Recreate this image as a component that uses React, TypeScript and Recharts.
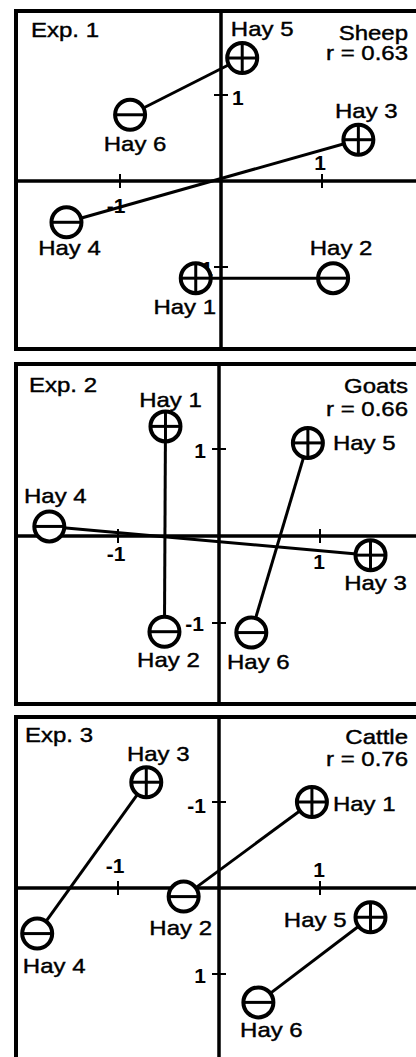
import React from 'react';
import {
  ScatterChart,
  Scatter,
  XAxis,
  YAxis,
  ReferenceArea,
  ReferenceLine,
  ReferenceDot,
} from 'recharts';

const hayNames = ['Hay 1', 'Hay 2', 'Hay 3', 'Hay 4', 'Hay 5', 'Hay 6'];
const haySigns = ['+', '-', '+', '-', '+', '-'];
const hayPairs = [[0, 1], [2, 3], [4, 5]];

const expTitles = ['Exp. 1', 'Exp. 2', 'Exp. 3'];
const animals = ['Sheep', 'Goats', 'Cattle'];
const rValues = ['0.63', '0.66', '0.76'];
const axisTicks = [-1, 1];

// scores per hay (Hay 1..6)
const exp1X = [-0.25, 1.11, 1.36, -1.53, 0.21, -0.9];
const exp1Y = [-1.13, -1.13, 0.48, -0.48, 1.43, 0.77];
const exp2X = [-0.53, -0.54, 1.5, -1.68, 0.88, 0.32];
const exp2Y = [1.26, -1.1, -0.22, 0.11, 1.07, -1.11];
const exp3X = [0.92, -0.35, -0.72, -1.8, 1.5, 0.39];
const exp3Y = [-1.0, 0.1, -1.23, 0.53, 0.34, 1.33];

const FONT = '"Liberation Sans", Arial, Helvetica, sans-serif';
const CHART_W = 440;
const FRAME_L = 16;
const FRAME_R = 425;
const PAD = 12;

// label offsets from point centre: [dx, dy, anchor]
const exp1Labels = [[-11, 36, 'middle'], [8, -23, 'middle'], [8, -22, 'middle'], [3, 33, 'middle'], [20, -22, 'middle'], [5, 36, 'middle']];
const exp2Labels = [[5, -19, 'middle'], [4, 35, 'middle'], [5, 35, 'middle'], [6, -23, 'middle'], [25, 7, 'start'], [7, 36, 'middle']];
const exp3Labels = [[21, 9, 'start'], [-3, 38, 'middle'], [12, -21, 'middle'], [17, 39, 'middle'], [-24, 10, 'end'], [13, 35, 'middle']];

// tick label offsets, same order as axisTicks
const exp1TickX = [[-4, 32, 'middle'], [-2, -11, 'middle']];
const exp1TickY = [[-8, 9, 'end'], [11, 10, 'start']];
const exp2TickX = [[-2, 25, 'middle'], [-1, 33, 'middle']];
const exp2TickY = [[-15, 8, 'end'], [-13, 9, 'end']];
const exp3TickX = [[-3, -15, 'middle'], [-1, -11, 'middle']];
const exp3TickY = [[-13, 11, 'end'], [-13, 9, 'end']];

const panels = [
  { xs: exp1X, ys: exp1Y, top: 11, bottom: 349, ox: 221, oy: 181, ux: 101, uy: 86, rev: false, labels: exp1Labels, tickX: exp1TickX, tickY: exp1TickY, corner: [15, 26, 29, 49] },
  { xs: exp2X, ys: exp2Y, top: 364, bottom: 704, ox: 219, oy: 536, ux: 101, uy: 87, rev: false, labels: exp2Labels, tickX: exp2TickX, tickY: exp2TickY, corner: [13, 28, 29, 52] },
  { xs: exp3X, ys: exp3Y, top: 717, bottom: 1075, ox: 219, oy: 888, ux: 101, uy: 86, rev: true, labels: exp3Labels, tickX: exp3TickX, tickY: exp3TickY, corner: [9, 25, 27, 49] },
];

function WideText({ x, y, anchor = 'middle', children }: any) {
  return (
    <text
      transform={`translate(${x},${y}) scale(1.2,1)`}
      textAnchor={anchor}
      fontFamily={FONT}
      fontSize={20}
      fill="#000"
      stroke="#000"
      strokeWidth={0.4}
    >
      {children}
    </text>
  );
}

function Marker({ cx, cy, payload, labels }: any) {
  const r = 15;
  const [dx, dy, anchor] = labels[payload.idx];
  return (
    <g>
      <circle cx={cx} cy={cy} r={r} fill="#fff" stroke="#000" strokeWidth={4} />
      <line x1={cx - r} x2={cx + r} y1={cy} y2={cy} stroke="#000" strokeWidth={3} />
      {payload.sign === '+' && (
        <line x1={cx} x2={cx} y1={cy - r} y2={cy + r} stroke="#000" strokeWidth={3} />
      )}
      <WideText x={cx + dx} y={cy + dy} anchor={anchor}>
        {payload.name}
      </WideText>
    </g>
  );
}

function Tick({ cx, cy, dir, place, text }: any) {
  const [dx, dy, anchor] = place;
  const L = 7;
  return (
    <g>
      {dir === 'x' ? (
        <line x1={cx} x2={cx} y1={cy - L} y2={cy + L} stroke="#000" strokeWidth={2} />
      ) : (
        <line x1={cx - L} x2={cx + L} y1={cy} y2={cy} stroke="#000" strokeWidth={2} />
      )}
      <text x={cx + dx} y={cy + dy} textAnchor={anchor} fontFamily={FONT} fontSize={21} fontWeight="bold" fill="#000">
        {text}
      </text>
    </g>
  );
}

function Corner({ cx, cy, i, corner }: any) {
  const [ex, ey, sy, ry] = corner;
  return (
    <g>
      <WideText x={cx + ex} y={cy + ey} anchor="start">{expTitles[i]}</WideText>
      <WideText x={408} y={cy + sy} anchor="end">{animals[i]}</WideText>
      <WideText x={408} y={cy + ry} anchor="end">{`r = ${rValues[i]}`}</WideText>
    </g>
  );
}

function Panel({ p, i }: any) {
  const h = p.bottom - p.top + PAD * 2;
  const xMin = (FRAME_L - p.ox) / p.ux;
  const xMax = (FRAME_R - p.ox) / p.ux;
  const yDomain = p.rev
    ? [(p.top - p.oy) / p.uy, (p.bottom - p.oy) / p.uy]
    : [(p.oy - p.bottom) / p.uy, (p.oy - p.top) / p.uy];
  const yTop = p.rev ? yDomain[0] : yDomain[1];
  const points = hayNames.map((name, k) => ({ idx: k, name, sign: haySigns[k], x: p.xs[k], y: p.ys[k] }));

  return (
    <div style={{ position: 'absolute', left: 0, top: p.top - PAD }}>
      <ScatterChart width={CHART_W} height={h} margin={{ top: PAD, right: CHART_W - FRAME_R, bottom: PAD, left: FRAME_L }}>
        <XAxis type="number" dataKey="x" domain={[xMin, xMax]} allowDataOverflow hide />
        <YAxis type="number" dataKey="y" domain={yDomain} allowDataOverflow reversed={p.rev} hide />
        <ReferenceArea x1={xMin} x2={xMax} y1={yDomain[0]} y2={yDomain[1]} fill="none" fillOpacity={0} stroke="#000" strokeWidth={4} ifOverflow="visible" />
        <ReferenceLine x={0} stroke="#000" strokeWidth={3.5} />
        <ReferenceLine y={0} stroke="#000" strokeWidth={3.5} />
        <ReferenceDot x={xMin} y={yTop} r={0} ifOverflow="visible" shape={(d: any) => <Corner {...d} i={i} corner={p.corner} />} />
        {axisTicks.map((t, k) => (
          <ReferenceDot key={'x' + t} x={t} y={0} r={0} ifOverflow="visible" shape={(d: any) => <Tick {...d} dir="x" place={p.tickX[k]} text={String(t)} />} />
        ))}
        {axisTicks.map((t, k) => (
          <ReferenceDot key={'y' + t} x={0} y={t} r={0} ifOverflow="visible" shape={(d: any) => <Tick {...d} dir="y" place={p.tickY[k]} text={String(t)} />} />
        ))}
        {hayPairs.map(([a, b]) => (
          <Scatter
            key={a}
            data={[points[a], points[b]]}
            fill="#000"
            line={{ stroke: '#000', strokeWidth: 3 }}
            lineType="joint"
            isAnimationActive={false}
            shape={(d: any) => <Marker {...d} labels={p.labels} />}
          />
        ))}
      </ScatterChart>
    </div>
  );
}

export default function App() {
  return (
    <div style={{ position: 'absolute', left: 0, top: 0, width: 416, height: 1057, overflow: 'hidden', background: '#fff' }}>
      {panels.map((p, i) => (
        <Panel key={i} p={p} i={i} />
      ))}
    </div>
  );
}
